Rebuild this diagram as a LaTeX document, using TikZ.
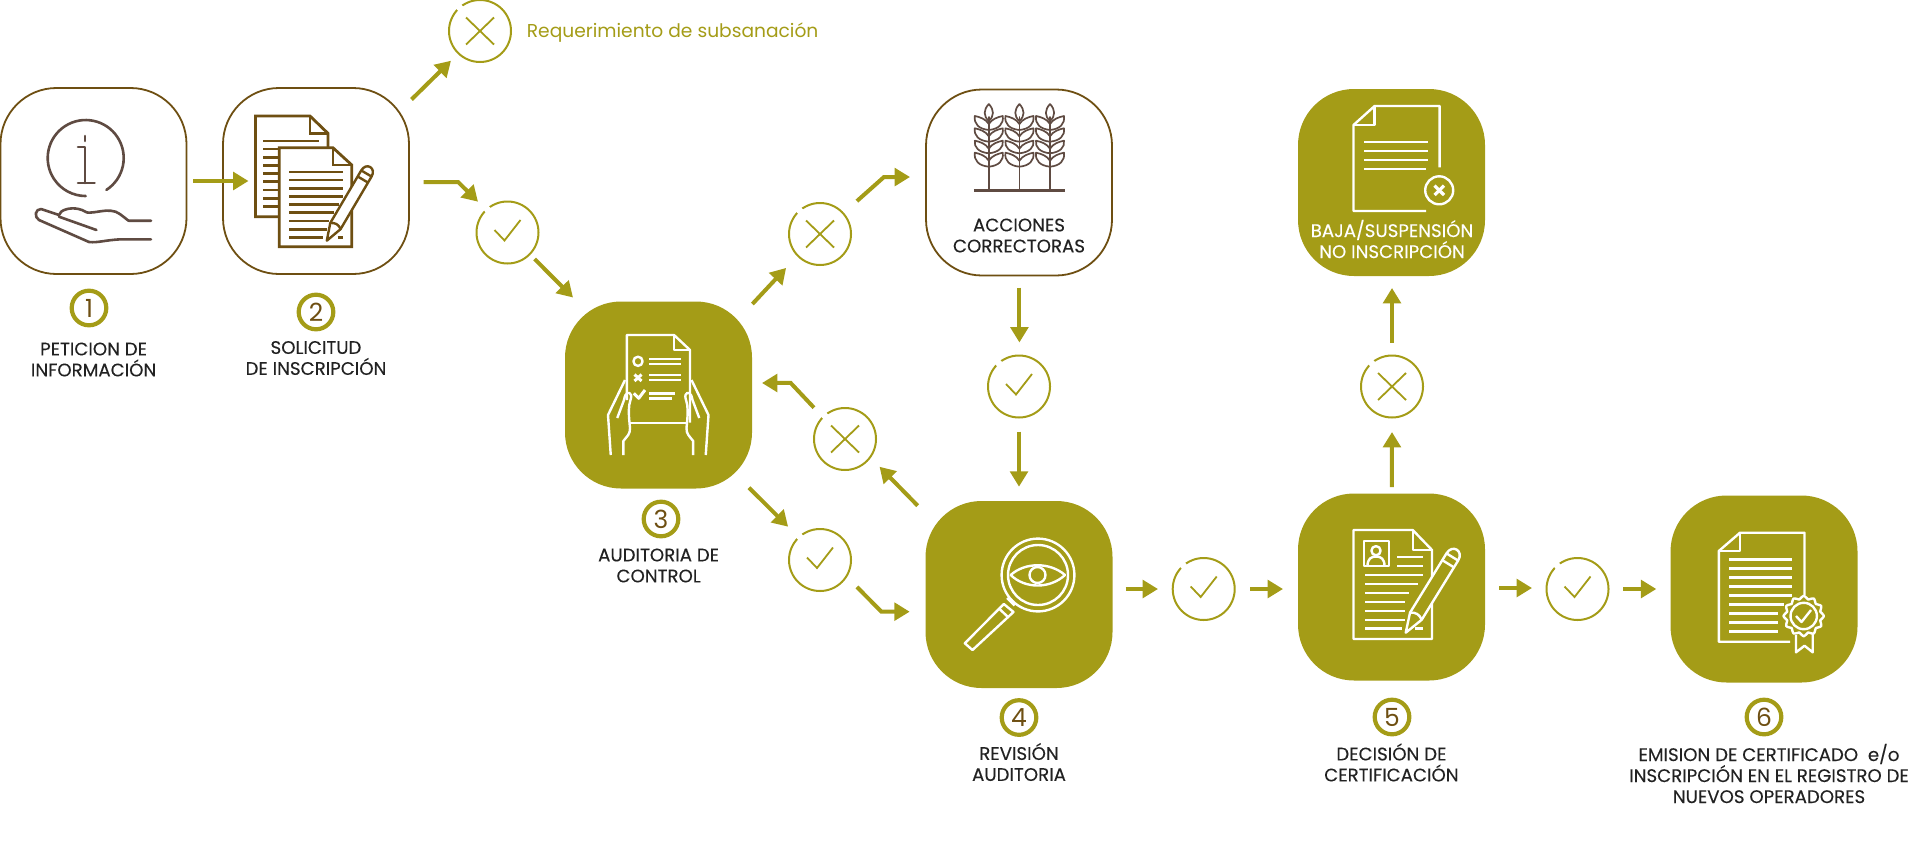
\documentclass[tikz,border=0pt]{standalone}
\usepackage{fontspec}
\setmainfont{Poppins}
\newfontfamily\labelfont[FakeBold=0.2]{Poppins}
\usetikzlibrary{arrows.meta}
\definecolor{chbrown}{HTML}{6E4F12}
\definecolor{chgrey}{HTML}{5F4B42}
\definecolor{cholive}{HTML}{A49C17}
\definecolor{chink}{HTML}{222222}
\tikzset{
  linebox/.style={draw=chbrown, line width=0.9pt, fill=white, rounded corners=28pt, minimum width=186pt*0.5, minimum height=186pt*0.5, inner sep=0pt, outer sep=0pt},
  solidbox/.style={fill=cholive, rounded corners=28pt, minimum width=187pt*0.5, minimum height=187pt*0.5, inner sep=0pt, outer sep=0pt},
  gate/.style={circle, draw=cholive, line width=1pt, minimum size=31pt, inner sep=0pt, outer sep=0pt},
  gatemark/.style={draw=cholive, line width=0.9pt},
  gategap/.style={draw=white, line width=2pt},
  stepnum/.style={circle, draw=cholive, line width=2.1pt, minimum size=17.3pt, inner sep=0pt, outer sep=0pt, text=chbrown, font=\fontsize{12.5}{13}\selectfont},
  steplabel/.style={align=center, inner sep=0pt, text=chink, font=\labelfont\fontsize{9.1}{10.5}\selectfont},
  flow/.style={draw=cholive, line width=2pt, line join=miter, -{Triangle[length=7.7pt,width=8.8pt]}},
  browniconline/.style={draw=chbrown, line width=1.4pt, line join=miter},
  greyiconline/.style={draw=chgrey, line width=1.3pt, line cap=round, line join=round},
  wheatline/.style={draw=chgrey, line width=0.85pt, line cap=round, line join=round},
  whiteiconline/.style={draw=white, line width=1.2pt, line join=round},
  pics/pencil/.style 2 args={code={
    \path[draw=#1, fill=#2, line width=1.2pt, line join=round] (0,0) -- (17,6) -- (78,6) .. controls (88,6) and (88,-6) .. (78,-6) -- (17,-6) -- cycle;
    \path[draw=#1, line width=1.2pt] (17,6) .. controls (20,2) and (20,-2) .. (17,-6);
    \path[draw=#1, line width=1.2pt] (71,6) -- (71,-6);
    \path[draw=#1, line width=1.2pt] (78,6) -- (78,-6);
  }},
  pics/wheat/.style={code={
    \draw[wheatline] (0,117) -- (0,190.5);
    \draw[wheatline] (0,104) .. controls (-5.5,110) and (-5.5,116) .. (0,121) .. controls (5.5,116) and (5.5,110) .. (0,104);
    \foreach \s in {-1,1}
      \foreach \yt/\yb in {116/130, 128.3/141.7, 140.7/153.3, 152.7/166.7}
        \draw[wheatline] (0,\yb) .. controls (\s*10,\yb-1) and (\s*15,\yb-6) .. (\s*14,\yt) .. controls (\s*9,\yt+1) and (\s*3,\yt+3) .. (0,\yt+8);
  }},
  pics/holdhand/.style={code={
    \draw[whiteiconline] (-33.25,380) -- (-50.25,415) -- (-47.5,455);
    \draw[whiteiconline] (-34.9,455) -- (-34.9,441) .. controls (-31,436) and (-28,434) .. (-28.25,428) .. controls (-29,420) and (-30,412) .. (-29,405) .. controls (-28,400) and (-26.5,397) .. (-27.25,395) .. controls (-29,391) and (-33,392) .. (-34.25,400) -- (-41,418);
  }}
}
\begin{document}
\begin{tikzpicture}[x=0.5pt, y=-0.5pt]
  \useasboundingbox (0,0) rectangle (1920,841);

  % steps and outcome boxes
  \node[linebox] (box1) at (93.5,181) {};
  \node[linebox] (box2) at (316,181) {};
  \node[solidbox] (box3) at (658.5,395) {};
  \node[solidbox] (box4) at (1019,594.5) {};
  \node[solidbox] (box5) at (1391.5,587) {};
  \node[solidbox] (box6) at (1764,589) {};
  \node[linebox] (boxfix) at (1019,182.5) {};
  \node[solidbox] (boxdrop) at (1391.5,182.5) {};

  % round gates
  \foreach \nm/\cx/\cy in {okone/507.5/232.5, okaudit/820/560, okfix/1019/386.5, okreview/1203.7/589, okdecide/1577.5/589} {
    \node[gate] (\nm) at (\cx,\cy) {};
    \draw[gategap] (\nm.125) -- (\nm.137);
    \draw[gatemark] ([shift={(-13,-2.5)}]\nm.center) -- ([shift={(-3,8)}]\nm.center) -- ([shift={(13,-12.5)}]\nm.center);
  }
  \foreach \nm/\cx/\cy in {notop/480/31, nofix/820/234, noback/845/439, nodrop/1392/386.5} {
    \node[gate] (\nm) at (\cx,\cy) {};
    \draw[gategap] (\nm.125) -- (\nm.137);
    \draw[gatemark] ([shift={(-14,-13.5)}]\nm.center) -- ([shift={(14,13.5)}]\nm.center);
    \draw[gatemark] ([shift={(14,-13.5)}]\nm.center) -- ([shift={(-14,13.5)}]\nm.center);
  }

  % connectors
  \draw[flow] ([shift={(6.5,0)}]box1.east) -- ([shift={(25.5,0)}]box2.west);
  \draw[flow] ([shift={(2.5,11.5)}]box2.north east) -- ([shift={(-7.1,7.8)}]notop.south west);
  \draw[flow] ([shift={(14.5,1)}]box2.east) -- ++(34.6,0) -- ([shift={(-7.6,-8.9)}]okone.north west);
  \draw[flow] ([shift={(5.2,4.6)}]okone.south east) -- ([shift={(8,-4)}]box3.north west);
  \draw[flow] ([shift={(0.4,2.5)}]box3.north east) -- ([shift={(-12,12)}]nofix.south west);
  \draw[flow] ([shift={(15,-11)}]nofix.north east) -- ++(27,-24) -- ([shift={(-16,-5.5)}]boxfix.west);
  \draw[flow] ([shift={(0.4,12)}]boxfix.south) -- ([shift={(0.4,-13)}]okfix.north);
  \draw[flow] ([shift={(0,14)}]okfix.south) -- ([shift={(0,-14.3)}]box4.north);
  \draw[flow] ([shift={(-3,-0.8)}]box3.south east) -- ([shift={(-10,-11.4)}]okaudit.north west);
  \draw[flow] ([shift={(15,5)}]okaudit.south east) -- ++(24.4,24.7) -- ([shift={(-15.8,17.2)}]box4.west);
  \draw[flow] ([shift={(-7.8,4.7)}]box4.north west) -- ([shift={(12.6,5.8)}]noback.south east);
  \draw[flow] ([shift={(-9.1,-9.4)}]noback.north west) -- ++(-23.3,-24.7) -- ([shift={(10,-12)}]box3.east);
  \draw[flow] ([shift={(13,-5.5)}]box4.east) -- ([shift={(-14.7,0)}]okreview.west);
  \draw[flow] ([shift={(15.3,0)}]okreview.east) -- ([shift={(-15,2)}]box5.west);
  \draw[flow] ([shift={(0.3,-6.5)}]box5.north) -- ([shift={(0,14.5)}]nodrop.south);
  \draw[flow] ([shift={(0,-13)}]nodrop.north) -- ([shift={(0.5,12)}]boxdrop.south);
  \draw[flow] ([shift={(14,1)}]box5.east) -- ([shift={(-14.5,-1)}]okdecide.west);
  \draw[flow] ([shift={(14.5,0)}]okdecide.east) -- ([shift={(-14.2,0)}]box6.west);

  % numbers and labels
  \node[stepnum] (num1) at (89,308) {1};
  \node[stepnum] (num2) at (316,312) {2};
  \node[stepnum] (num3) at (661,519) {3};
  \node[stepnum] (num4) at (1019,717.5) {4};
  \node[stepnum] (num5) at (1392,717) {5};
  \node[stepnum] (num6) at (1764,717) {6};
  \node[steplabel] (lab1) at (93.6,359.5) {PETICION DE\\INFORMACIÓN};
  \node[steplabel] (lab2) at (316,358) {SOLICITUD\\DE INSCRIPCIÓN};
  \node[steplabel] (lab3) at (658.6,565.5) {AUDITORIA DE\\CONTROL};
  \node[steplabel] (lab4) at (1019,762) {REVISIÓN\\AUDITORIA};
  \node[steplabel] (lab5) at (1391.4,762.5) {DECISIÓN DE\\CERTIFICACIÓN};
  \node[steplabel] (lab6) at (1769,773.5) {EMISION DE CERTIFICADO\ \ e/o\\INSCRIPCIÓN EN EL REGISTRO DE\\NUEVOS OPERADORES};
  \node[steplabel] (labfix) at (1019,235.5) {ACCIONES\\CORRECTORAS};
  \node[steplabel, text=white] (labdrop) at (1392,239) {BAJA/SUSPENSIÓN\\NO INSCRIPCIÓN};
  \node[steplabel, anchor=west, text=cholive, font=\fontsize{9.32}{11}\selectfont] (labtop) at (526.5,33) {Requerimiento de subsanación};

  % icon: information over a hand
  \draw[greyiconline] (106.4,189.9) arc[start angle=-57, end angle=270, radius=19pt];
  \draw[greyiconline] (85,136) -- (85,141);
  \draw[greyiconline] (78,147) -- (85,147) -- (85,183);
  \draw[greyiconline] (78,183) -- (94.6,183);
  \draw[greyiconline] (151,239.3) -- (121.4,239.3) .. controls (105,240) and (98,243) .. (89,242) -- (39,220) .. controls (34,217) and (35,209) .. (41,209) -- (59,215) .. controls (60,210) and (70,207) .. (78.6,209) .. controls (84,210) and (86,213) .. (89,212.7) .. controls (96,212.5) and (104,210) .. (110.7,210.7) .. controls (118,211) and (122,216) .. (128.6,220.7) -- (151,220.7);
  \draw[greyiconline] (59,216.7) -- (96.4,230);

  % icon: two sheets and a pencil
  \draw[browniconline] (279,216.7) -- (255.4,216.7) -- (255.4,116) -- (310,116) -- (327.9,133.3) -- (327.9,147);
  \draw[browniconline] (310,116) -- (310,133.3) -- (327.9,133.3);
  \draw[browniconline] (263,141) -- (318.6,141);
  \foreach \ly in {149,157.3,165.3,173.3,181.7,190,198.3,206.7}
    \draw[browniconline] (263,\ly) -- (279,\ly);
  \draw[browniconline, fill=white] (279.3,147.7) -- (332.9,147.7) -- (351.8,165) -- (351.8,246.7) -- (279.3,246.7) -- cycle;
  \draw[browniconline] (332.9,147.7) -- (332.9,165) -- (351.8,165);
  \foreach \ly/\lx in {172/342.9,180/342.9,188.3/342.9,196.7/342.9,204.7/338.6,212.7/334,221/328.6,229.3/326.8,237.3/323}
    \draw[browniconline] (289.3,\ly) -- (\lx,\ly);
  \draw[browniconline] (337.5,237.3) -- (342.9,237.3);
  \pic[rotate=59.5] at (326.8,240.7) {pencil={chbrown}{white}};

  % icon: sheet held in two hands
  \draw[whiteiconline] (626.9,400) -- (626.9,335) -- (674,335) -- (690,350) -- (690,422.7);
  \draw[whiteiconline] (674,335) -- (674,350) -- (690,350);
  \draw[whiteiconline] (630,422.7) -- (687,422.7);
  \draw[whiteiconline] (638,361.3) circle[radius=2.3pt];
  \draw[whiteiconline, line width=1.5pt] (634.5,374.5) -- (641.5,381);
  \draw[whiteiconline, line width=1.5pt] (641.5,374.5) -- (634.5,381);
  \draw[whiteiconline, line width=1.5pt] (633.8,393.3) -- (638.7,398.3) -- (645,390);
  \foreach \ly/\lx in {359/680.5,364/680.5,375/680.5,380/680.5,393.3/674.7,398.3/672}
    \draw[whiteiconline] (649,\ly) -- (\lx,\ly);
  \pic at (658.25,0) {holdhand};
  \pic[xscale=-1] at (658.25,0) {holdhand};

  % icon: magnifier with an eye
  \draw[whiteiconline] (1038,575) circle[radius=18.2pt];
  \draw[whiteiconline] (1038,575) circle[radius=15pt];
  \draw[whiteiconline] (1010.7,575) .. controls (1025,562) and (1050,562) .. (1065,575) .. controls (1050,589) and (1025,589) .. cycle;
  \draw[whiteiconline] (1037.5,575) circle[radius=4pt];
  \draw[whiteiconline] (1007,598) -- (1014.6,605.5);
  \draw[whiteiconline] (1003.8,604) -- (1013.5,612) -- (972.5,650) -- (964.8,643.3) -- cycle;
  \draw[whiteiconline] (999.5,609) -- (1008,617);

  % icon: wheat
  \pic at (988.8,0) {wheat};
  \pic at (1019.4,0) {wheat};
  \pic at (1050,0) {wheat};
  \draw[greyiconline, line cap=butt] (973.9,190.7) -- (1064.6,190.7);

  % icon: sheet with a cross
  \draw[whiteiconline] (1439.6,167.3) -- (1439.6,106) -- (1374.6,106) -- (1353.5,125) -- (1353.5,211) -- (1426,211);
  \draw[whiteiconline] (1374.6,106) -- (1374.6,125) -- (1353.5,125);
  \foreach \ly/\lx in {141.7/1428,151/1428,160/1428,169/1426}
    \draw[whiteiconline] (1364,\ly) -- (\lx,\ly);
  \draw[whiteiconline] (1439.2,190.3) circle[radius=7pt];
  \draw[whiteiconline, line width=1.6pt] (1434.5,185.6) -- (1444,195);
  \draw[whiteiconline, line width=1.6pt] (1444,185.6) -- (1434.5,195);

  % icon: form and pencil
  \draw[whiteiconline] (1353.5,530) -- (1412.7,530) -- (1432,550) -- (1432,639) -- (1353.5,639) -- cycle;
  \draw[whiteiconline] (1412.7,530) -- (1412.7,550) -- (1432,550);
  \draw[whiteiconline] (1363.7,541) rectangle (1389,566);
  \draw[whiteiconline] (1376,550.7) circle[radius=2.3pt];
  \draw[whiteiconline] (1367.5,566) .. controls (1367.5,559) and (1371,556.5) .. (1376,556.5) .. controls (1381,556.5) and (1384.5,559) .. (1384.5,566);
  \foreach \ly/\lx/\rx in {556.7/1397/1423, 565.7/1397/1423, 575/1365/1423, 583.7/1365/1417.5, 592.7/1365/1408.6, 601.7/1365/1404.5, 610.7/1365/1404.5, 620/1365/1404.5, 628.3/1365/1402.4, 628.3/1414.7/1423}
    \draw[whiteiconline] (\lx,\ly) -- (\rx,\ly);
  \pic[rotate=58.4, scale=1.14] at (1405.7,632.7) {pencil={white}{cholive}};

  % icon: certificate
  \draw[whiteiconline] (1804.5,595) -- (1804.5,532.7) -- (1740,532.7) -- (1718.8,551) -- (1718.8,641.7) -- (1790,641.7);
  \draw[whiteiconline] (1740,532.7) -- (1740,551) -- (1718.8,551);
  \foreach \ly/\rx in {559.3/1792,568.3/1792,577.3/1792,586.3/1792,595.3/1792,604.3/1784,613.3/1778,622.3/1778,631.3/1778}
    \draw[whiteiconline] (1729,\ly) -- (\rx,\ly);
  \draw[whiteiconline] (1796,635) -- (1796,652.3) -- (1804.5,645.7) -- (1812.7,652.3) -- (1812.7,633);
  \draw[whiteiconline, fill=cholive] plot[domain=0:352.5, samples=48, smooth cycle] ({1803.7+(18.6+1.6*cos(12*\x))*cos(\x)},{616+(18.6+1.6*cos(12*\x))*sin(\x)});
  \draw[whiteiconline] (1803.7,616) circle[radius=6.6pt];
  \draw[whiteiconline] (1796,616) -- (1801.5,622) -- (1811,610);
\end{tikzpicture}
\end{document}
